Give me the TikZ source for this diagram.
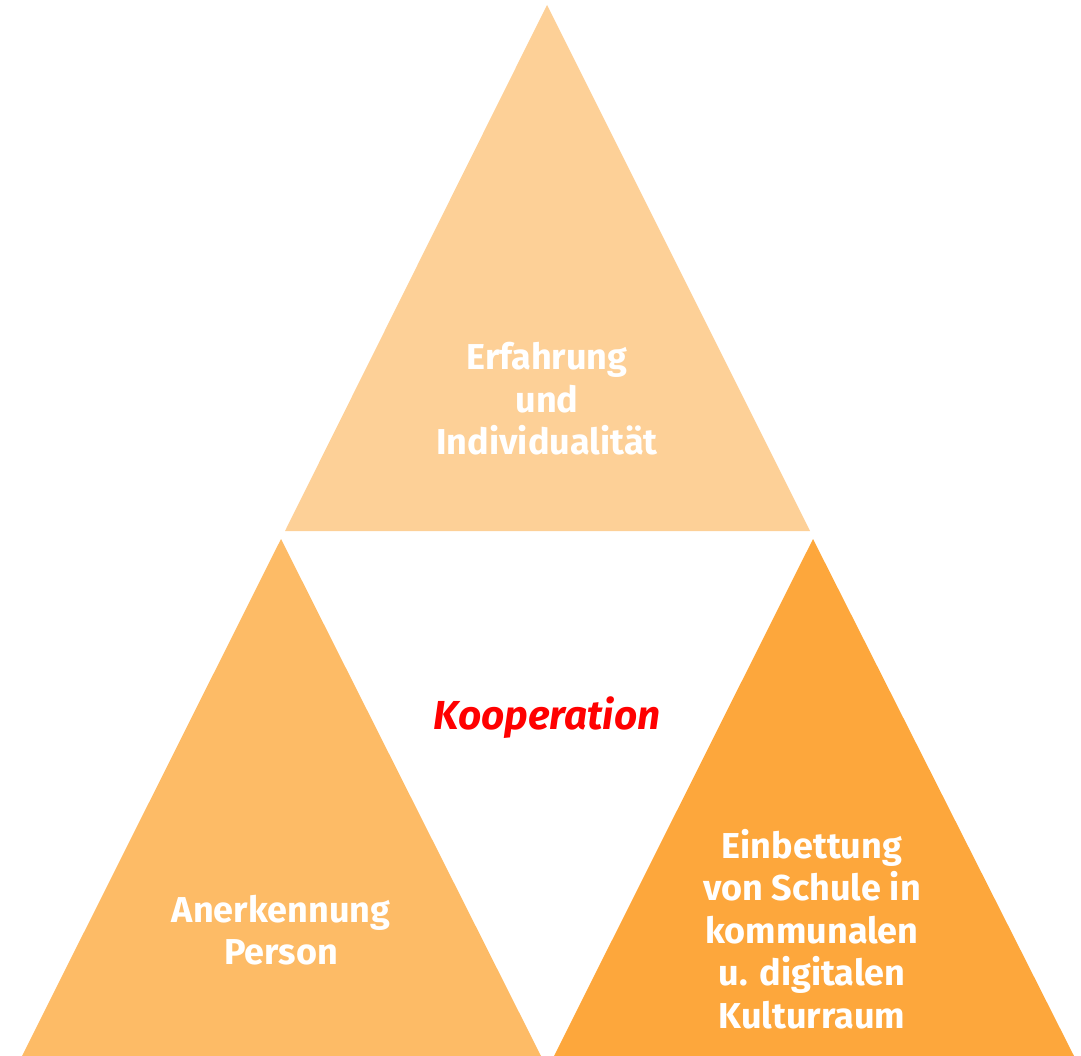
\documentclass[tikz,border=0pt]{standalone}
\usepackage{fontspec}
\setmainfont{Fira Sans}
\definecolor{topc}{RGB}{253,208,151}
\definecolor{leftc}{RGB}{253,187,102}
\definecolor{rightc}{RGB}{253,167,60}
\definecolor{kred}{RGB}{255,0,0}
\begin{document}
\begin{tikzpicture}[x=1pt,y=-1pt,
  lbl/.style={text=white,font=\bfseries\fontsize{36}{42.5}\selectfont,align=center,inner sep=0pt}]
\useasboundingbox (0,0) rectangle (1081,1056);
\fill[topc] (547,5) -- (810,531) -- (285,531) -- cycle;
\fill[leftc] (281,539) -- (541,1056) -- (22,1056) -- cycle;
\fill[rightc] (813,539) -- (1074,1056) -- (554,1056) -- cycle;
\node[lbl] (t) at (547,399) {Erfahrung\\und\\Individualität};
\node[lbl] (l) at (281,930) {Anerkennung\\Person};
\node[lbl] (r) at (812,929) {Einbettung\\von Schule in\\kommunalen\\u. digitalen\\Kulturraum};
\node[text=kred,font=\bfseries\itshape\fontsize{40.5}{46}\selectfont,inner sep=0pt] (k) at (547,718) {Kooperation};
\end{tikzpicture}
\end{document}
